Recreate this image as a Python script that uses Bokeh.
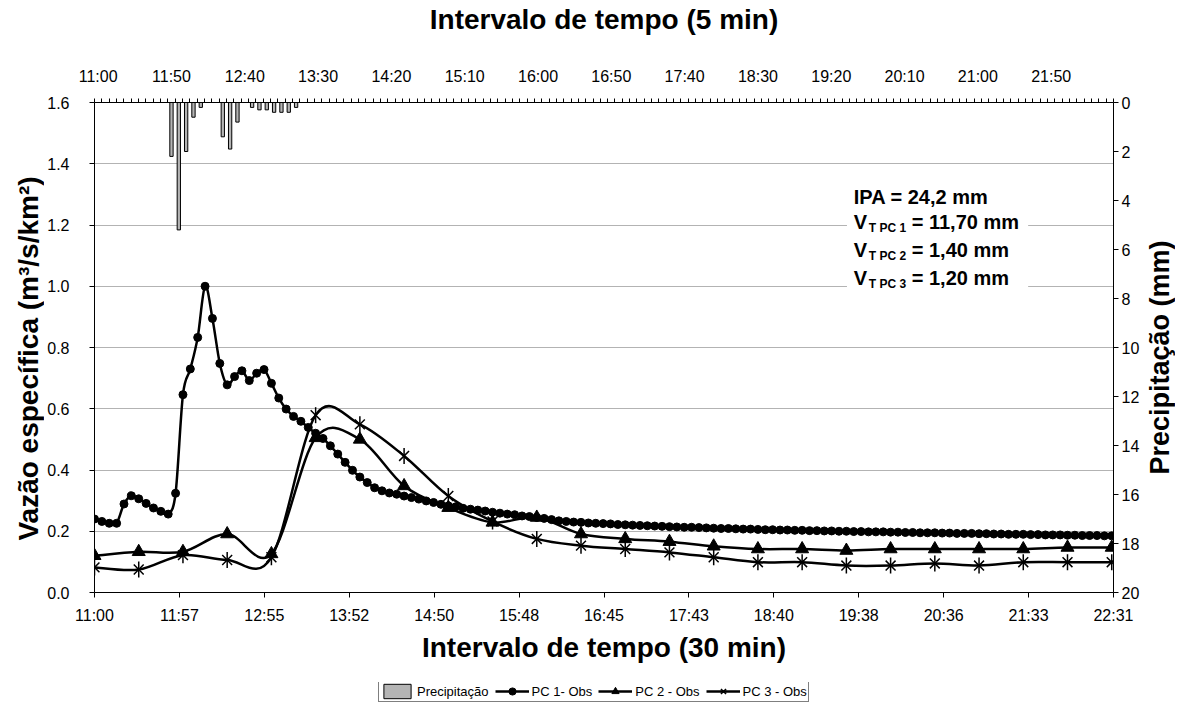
import math
from bokeh.plotting import figure
from bokeh.layouts import column, row
from bokeh.models import (Range1d, LinearAxis, FixedTicker, Legend, LegendItem, Label,
                          BoxAnnotation, ColumnDataSource, Grid, PrintfTickFormatter)
from bokeh.embed import file_html
from bokeh.resources import INLINE

# ---------------- data ----------------
# PC 1 - Obs : specific discharge (m3/s/km2), one reading every 5 min from 11:00
pc1_q = [0.240, 0.232, 0.226, 0.226, 0.289, 0.316, 0.306, 0.291, 0.276, 0.265,
         0.256, 0.324, 0.646, 0.730, 0.833, 1.000, 0.895, 0.748, 0.678, 0.705,
         0.724, 0.692, 0.716, 0.728, 0.683, 0.635, 0.599, 0.575, 0.559, 0.539,
         0.520, 0.503, 0.479, 0.452, 0.425, 0.399, 0.377, 0.359, 0.342, 0.332,
         0.325, 0.321, 0.315, 0.310, 0.305, 0.299, 0.294, 0.288, 0.283, 0.280,
         0.275, 0.272, 0.269, 0.266, 0.262, 0.259, 0.256, 0.254, 0.250, 0.248,
         0.245, 0.242, 0.238, 0.234,
         0.232, 0.230, 0.229, 0.227, 0.226, 0.225, 0.224, 0.222, 0.221, 0.220,
         0.219, 0.218, 0.217, 0.216, 0.215, 0.214, 0.213, 0.213, 0.212, 0.211,
         0.210, 0.209, 0.209, 0.208, 0.207, 0.207, 0.206, 0.205, 0.205, 0.204,
         0.204, 0.203, 0.203, 0.202, 0.202, 0.201, 0.201, 0.200, 0.200, 0.199,
         0.199, 0.198, 0.198, 0.198, 0.197, 0.197, 0.196, 0.196, 0.195, 0.195,
         0.195, 0.194, 0.194, 0.193, 0.193, 0.193, 0.192, 0.192, 0.191, 0.191,
         0.190, 0.190, 0.190, 0.189, 0.189, 0.188, 0.188, 0.188, 0.187, 0.187,
         0.186, 0.186, 0.186, 0.185, 0.185]
pc1_step_min = 5

# PC 2 - Obs and PC 3 - Obs : one reading every 30 min from 11:00
pc2_q = [0.120, 0.133, 0.133, 0.191, 0.126, 0.505, 0.500, 0.348, 0.277, 0.229,
         0.245, 0.191, 0.175, 0.166, 0.151, 0.142, 0.142, 0.137, 0.142, 0.142,
         0.142, 0.142, 0.147, 0.147]
pc3_q = [0.082, 0.075, 0.122, 0.106, 0.115, 0.579, 0.549, 0.446, 0.315, 0.232,
         0.175, 0.153, 0.142, 0.131, 0.115, 0.099, 0.099, 0.088, 0.088, 0.095,
         0.088, 0.099, 0.099, 0.099]
pc23_step_min = 30

# Precipitation (mm) per 5-min interval (only the non-zero intervals)
precip_time = ["11:50", "11:55", "12:00", "12:05", "12:10", "12:25", "12:30", "12:35",
               "12:45", "12:50", "12:55", "13:00", "13:05", "13:10", "13:15"]
precip_mm = [2.2, 5.2, 2.0, 0.6, 0.2, 1.4, 1.9, 0.8,
             0.2, 0.3, 0.3, 0.4, 0.4, 0.4, 0.2]
n_intervals_5min = 139

# axis tick labels
bottom_labels = ["11:00", "11:57", "12:55", "13:52", "14:50", "15:48", "16:45",
                 "17:43", "18:40", "19:38", "20:36", "21:33", "22:31"]
bottom_step_min = 57.6
top_labels = ["11:00", "11:50", "12:40", "13:30", "14:20", "15:10", "16:00",
              "16:50", "17:40", "18:30", "19:20", "20:10", "21:00", "21:50"]
left_ticks = [0.0, 0.2, 0.4, 0.6, 0.8, 1.0, 1.2, 1.4, 1.6]
right_ticks = [0, 2, 4, 6, 8, 10, 12, 14, 16, 18, 20]


def minutes(hhmm):
    h, m = map(int, hhmm.split(":"))
    return (h - 11) * 60 + m


FONT = "Liberation Sans"
BAR_FILL = "#B4B4B4"

pc1_t = [pc1_step_min * i for i in range(len(pc1_q))]
pc23_t = [pc23_step_min * i for i in range(len(pc2_q))]
precip_cat = [minutes(t) // 5 for t in precip_time]
bottom_ticks = [round(bottom_step_min * i, 1) for i in range(len(bottom_labels))]
x_end = bottom_ticks[-1]


def smooth(xs, ys):
    """Excel-like smoothed line as cubic Bezier segments."""
    n = len(xs)
    d = dict(x0=[], y0=[], x1=[], y1=[], cx0=[], cy0=[], cx1=[], cy1=[])
    for i in range(n - 1):
        a = max(i - 1, 0)
        b = min(i + 2, n - 1)
        d["x0"].append(xs[i]); d["y0"].append(ys[i])
        d["x1"].append(xs[i + 1]); d["y1"].append(ys[i + 1])
        d["cx0"].append(xs[i] + (xs[i + 1] - xs[a]) / 6.0)
        d["cy0"].append(ys[i] + (ys[i + 1] - ys[a]) / 6.0)
        d["cx1"].append(xs[i + 1] - (xs[b] - xs[i]) / 6.0)
        d["cy1"].append(ys[i + 1] - (ys[b] - ys[i]) / 6.0)
    return ColumnDataSource(d)


def bare_figure(w, h):
    f = figure(width=w, height=h, title=None, x_range=Range1d(0, 1), y_range=Range1d(0, 1),
               output_backend="svg", toolbar_location=None,
               x_axis_location=None, y_axis_location=None,
               min_border_left=0, min_border_right=0, min_border_top=0, min_border_bottom=0)
    f.xgrid.visible = False
    f.ygrid.visible = False
    f.outline_line_color = None
    f.background_fill_color = "white"
    f.border_fill_color = "white"
    return f


MAIN_H = 682
TITLE_KW = dict(text_font=FONT, text_font_style="bold", text_color="black",
                text_align="center", text_baseline="middle", angle=math.pi / 2,
                x_units="screen", y_units="screen")

# ---------------- main chart ----------------
p = figure(width=1099, height=MAIN_H, title=None,
           x_range=Range1d(0, x_end), y_range=Range1d(left_ticks[0], left_ticks[-1]),
           output_backend="svg", toolbar_location=None,
           x_axis_location=None, y_axis_location=None,
           min_border_left=45, min_border_right=30, min_border_top=100, min_border_bottom=90)
p.extra_x_ranges = {"cat": Range1d(-0.5, n_intervals_5min - 0.5)}
p.extra_y_ranges = {"precip": Range1d(right_ticks[-1], right_ticks[0])}
p.outline_line_color = None
p.background_fill_color = "white"
p.border_fill_color = "white"
p.xgrid.visible = False
p.ygrid.visible = False


def style_axis(ax, size="16px"):
    ax.axis_line_color = "black"
    ax.axis_line_width = 1
    ax.major_tick_line_color = "black"
    ax.minor_tick_line_color = "black"
    ax.major_label_text_font = FONT
    ax.major_label_text_font_size = size
    ax.major_label_text_color = "black"
    ax.axis_label_text_font = FONT
    ax.axis_label_text_font_size = "28px"
    ax.axis_label_text_font_style = "bold"
    ax.axis_label_text_color = "black"


# left axis (its title is drawn in the strip on the left)
left_ticker = FixedTicker(ticks=left_ticks)
ax_left = LinearAxis(ticker=left_ticker, formatter=PrintfTickFormatter(format="%.1f"))
style_axis(ax_left)
ax_left.major_tick_out = 5
ax_left.major_tick_in = 0
ax_left.minor_tick_out = 0
ax_left.major_label_standoff = 20
p.add_layout(ax_left, "left")

# bottom axis
ax_bottom = LinearAxis(ticker=FixedTicker(ticks=bottom_ticks),
                       major_label_overrides={t: l for t, l in zip(bottom_ticks, bottom_labels)},
                       axis_label="Intervalo de tempo (30 min)")
style_axis(ax_bottom)
ax_bottom.major_tick_out = 5
ax_bottom.major_tick_in = 0
ax_bottom.minor_tick_out = 0
ax_bottom.major_label_standoff = 9
ax_bottom.axis_label_standoff = 5
p.add_layout(ax_bottom, "below")

# right axis (precipitation, reversed)
ax_right = LinearAxis(y_range_name="precip", ticker=FixedTicker(ticks=right_ticks))
style_axis(ax_right)
ax_right.major_tick_out = 5
ax_right.major_tick_in = 0
ax_right.minor_tick_out = 0
ax_right.major_label_standoff = 3
p.add_layout(ax_right, "right")

# top axis (5-min categories)
top_cats = [minutes(t) // 5 for t in top_labels]
ax_top = LinearAxis(x_range_name="cat",
                    ticker=FixedTicker(ticks=top_cats,
                                       minor_ticks=[k - 0.5 for k in range(n_intervals_5min + 1)]),
                    major_label_overrides={c: l for c, l in zip(top_cats, top_labels)},
                    axis_label="Intervalo de tempo (5 min)")
style_axis(ax_top)
ax_top.major_tick_out = 0
ax_top.major_tick_in = 0
ax_top.minor_tick_out = 4
ax_top.minor_tick_in = 0
ax_top.major_label_standoff = 14
ax_top.axis_label_standoff = 30
p.add_layout(ax_top, "above")

# horizontal grid
p.add_layout(Grid(dimension=1, ticker=left_ticker, grid_line_color="#B3B3B3",
                  grid_line_width=1), "center")

# white box behind annotation text
p.add_layout(BoxAnnotation(left=510.4, right=633.3, bottom=0.95, top=1.35,
                           fill_color="white", fill_alpha=1.0, line_color=None,
                           level="underlay"))

# precipitation bars
p.vbar(x=precip_cat, top=[0] * len(precip_mm), bottom=precip_mm, width=0.45,
       x_range_name="cat", y_range_name="precip",
       fill_color=BAR_FILL, line_color="black", line_width=1)

# PC curves
for ts, qs in [(pc1_t, pc1_q), (pc23_t, pc2_q), (pc23_t, pc3_q)]:
    p.bezier(x0="x0", y0="y0", x1="x1", y1="y1", cx0="cx0", cy0="cy0", cx1="cx1", cy1="cy1",
             source=smooth(ts, qs), line_color="black", line_width=2.5)

p.scatter(pc1_t, pc1_q, marker="circle", size=8, fill_color="black", line_color="black")
p.scatter(pc23_t, pc2_q, marker="triangle", size=13, fill_color="black", line_color="black")
p.scatter(pc23_t, pc3_q, marker="x", size=14, line_color="black", line_width=1.5)
p.scatter(pc23_t, pc3_q, marker="dash", angle=math.pi / 2, size=16,
          line_color="black", line_width=1.5)

# annotation text
ann_x = 515
main_kw = dict(text_font=FONT, text_font_size="20px", text_font_style="bold",
               text_color="black", text_baseline="middle", text_align="left")
sub_kw = dict(main_kw, text_font_size="12px")
p.add_layout(Label(x=ann_x, y=1.292, text="IPA = 24,2 mm", **main_kw))
for yc, sub, rest in [(1.210, "T PC 1", "= 11,70 mm"),
                      (1.118, "T PC 2", "= 1,40 mm"),
                      (1.026, "T PC 3", "= 1,20 mm")]:
    p.add_layout(Label(x=ann_x, y=yc, text="V", **main_kw))
    p.add_layout(Label(x=ann_x, y=yc, x_offset=15, y_offset=-6, text=sub, **sub_kw))
    p.add_layout(Label(x=ann_x, y=yc, x_offset=58, text=rest, **main_kw))

# ---------------- axis titles at the sides (read bottom to top) ----------------
lt = bare_figure(44, MAIN_H)
lt.add_layout(Label(x=28, y=234, text="Vazão específica (m³/s/km²)",
                    text_font_size="28px", **TITLE_KW))
rt = bare_figure(32, MAIN_H)
rt.add_layout(Label(x=16, y=235, text="Precipitação (mm)",
                    text_font_size="27px", **TITLE_KW))

# ---------------- legend strip ----------------
lg = bare_figure(1175, 20)
off_x, off_y = [-10], [-5]
r_bar = lg.vbar(x=off_x, top=[-5], bottom=[-4], width=0.45,
                fill_color=BAR_FILL, line_color="black", line_width=1)
l1 = lg.line([-10, -9], [-5, -5], line_color="black", line_width=2.5)
l2 = lg.line([-10, -9], [-5, -5], line_color="black", line_width=2.5)
l3 = lg.line([-10, -9], [-5, -5], line_color="black", line_width=2.5)
k1 = lg.scatter(off_x, off_y, marker="circle", size=8, fill_color="black", line_color="black")
k2 = lg.scatter(off_x, off_y, marker="triangle", size=13, fill_color="black", line_color="black")
k3a = lg.scatter(off_x, off_y, marker="x", size=14, line_color="black", line_width=1.5)
k3b = lg.scatter(off_x, off_y, marker="dash", angle=math.pi / 2, size=16,
                 line_color="black", line_width=1.5)
legend = Legend(items=[
    LegendItem(label="Precipitação", renderers=[r_bar]),
    LegendItem(label="PC 1- Obs", renderers=[l1, k1]),
    LegendItem(label="PC 2 - Obs", renderers=[l2, k2]),
    LegendItem(label="PC 3 - Obs", renderers=[l3, k3a, k3b]),
], location=(378, 0), orientation="horizontal",
    label_text_font=FONT, label_text_font_size="13px", label_text_color="black",
    glyph_width=34, glyph_height=18, spacing=6, padding=1, margin=0, label_standoff=3,
    border_line_color="black", border_line_width=1,
    background_fill_color="white", background_fill_alpha=1.0)
lg.add_layout(legend, "center")

layout = column(row(lt, p, rt, spacing=0), lg, spacing=0)
open("out.html", "w").write(file_html(layout, INLINE))
